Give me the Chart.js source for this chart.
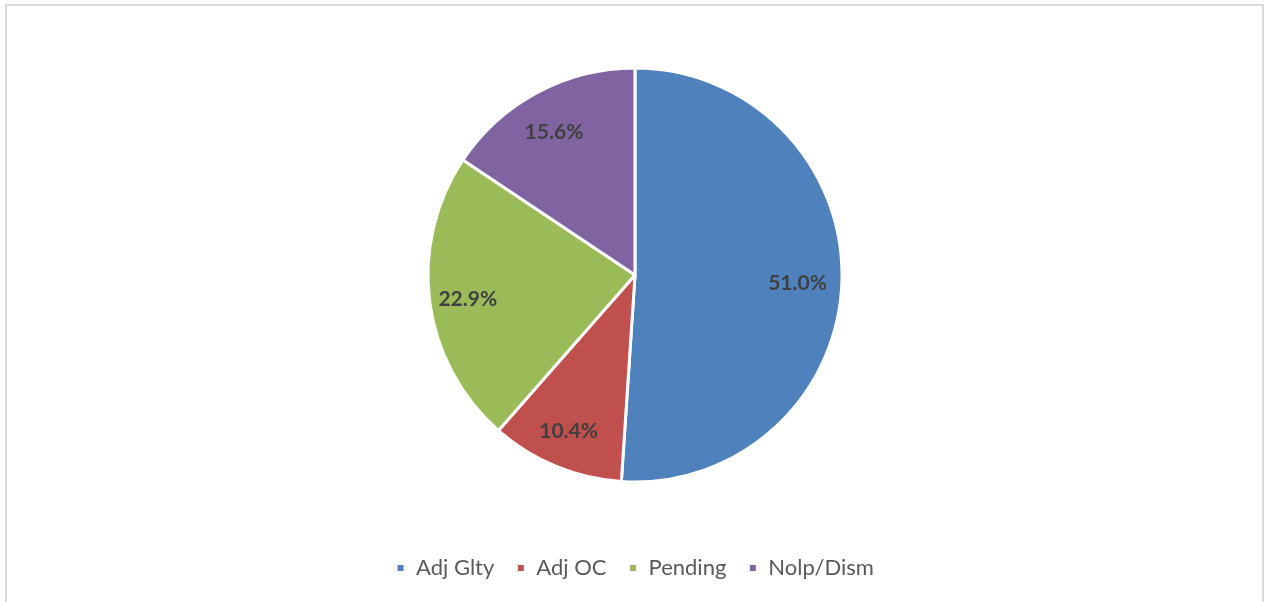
<!DOCTYPE html>
<html>
<head>
<meta charset="utf-8">
<script src="https://cdn.jsdelivr.net/npm/chart.js@4/dist/chart.umd.min.js"></script>
<style>
    html, body { margin: 0; padding: 0; background: #fff; }
    #frame {
        position: absolute; left: 5px; top: 4px;
        width: 1259px; height: 620px;
        border: 2px solid #d9d9d9;
        box-sizing: border-box;
    }
    #wrap { position: absolute; left: 0; top: 0; width: 1265px; height: 602px; }
</style>
</head>
<body>
<div id="frame"></div>
<div id="wrap"><canvas id="pieChart"></canvas></div>
<script>
// Case outcome shares (percent)
const categories = ['Adj Glty', 'Adj OC', 'Pending', 'Nolp/Dism'];
const shares = [51.0, 10.4, 22.9, 15.6];
const sliceColors = ['#4F81BD', '#C0504D', '#9BBB59', '#8064A2'];

// Draw percentage labels inside each slice
const sliceLabels = {
    id: 'sliceLabels',
    afterDatasetsDraw(chart) {
        const ctx = chart.ctx;
        const meta = chart.getDatasetMeta(0);
        ctx.save();
        ctx.font = 'bold 21px Lato';
        ctx.fillStyle = '#404040';
        ctx.textAlign = 'center';
        ctx.textBaseline = 'middle';
        meta.data.forEach((arc, i) => {
            const p = arc.getProps(['x', 'y', 'startAngle', 'endAngle', 'outerRadius'], true);
            const mid = (p.startAngle + p.endAngle) / 2;
            const r = p.outerRadius * 0.8;
            ctx.fillText(shares[i].toFixed(1) + '%', p.x + Math.cos(mid) * r - 3, p.y + Math.sin(mid) * r + 3);
        });
        ctx.restore();
    }
};

const ctx = document.getElementById('pieChart').getContext('2d');
const pieChart = new Chart(ctx, {
    type: 'pie',
    data: {
        labels: categories,
        datasets: [{
            data: shares,
            backgroundColor: sliceColors,
            borderColor: '#ffffff',
            borderWidth: 3
        }]
    },
    options: {
        responsive: true,
        maintainAspectRatio: false,
        animation: false,
        radius: 207,
        layout: {
            padding: { top: 15, bottom: 13, left: 5, right: 0 }
        },
        plugins: {
            tooltip: { enabled: false },
            legend: {
                position: 'bottom',
                labels: {
                    boxWidth: 9,
                    boxHeight: 9,
                    padding: 22,
                    color: '#595959',
                    font: { family: 'Lato', size: 22 }
                }
            }
        }
    },
    plugins: [sliceLabels]
});
</script>
</body>
</html>
